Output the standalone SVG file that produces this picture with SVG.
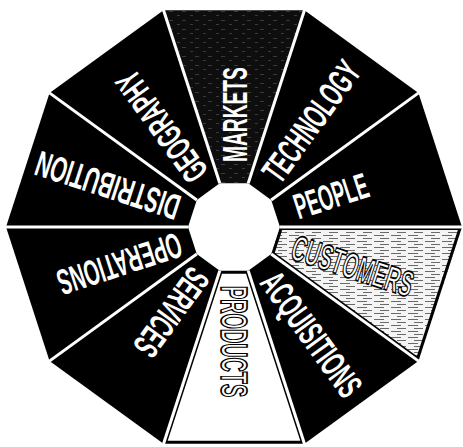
<svg xmlns="http://www.w3.org/2000/svg" width="463" height="447" viewBox="0 0 463 447">
  <style>
    .seg { fill: #000; }
    .lbl { font-family: "Liberation Sans", Arial, sans-serif; font-weight: bold; font-size: 36px; fill: #fff; }
    .lbl-out { font-family: "Liberation Sans", Arial, sans-serif; font-weight: bold; font-size: 36px; fill: #fff; stroke: #000; stroke-width: 1.7; }
    .sep { stroke: #fff; stroke-width: 3; stroke-linecap: butt; }
  </style>
  <defs>
    <pattern id="darktex" width="13" height="9" patternUnits="userSpaceOnUse">
      <rect width="13" height="9" fill="#0e0e0e"/>
      <path d="M0 2.5h4M8 6.5h3" stroke="#3a3a3a" stroke-width="1"/>
    </pattern>
    <pattern id="lighttex" width="17" height="6" patternUnits="userSpaceOnUse">
      <rect width="17" height="6" fill="#f4f4f4"/>
      <path d="M0 1.5h10M6 4.5h9" stroke="#6a6a6a" stroke-width="1"/>
    </pattern>
    <clipPath id="clipCust">
      <polygon points="280,227 462,227 418.46,361.02 271.21,254.04"/>
    </clipPath>
    <clipPath id="clipProd">
      <polygon points="248.21,270.75 304.46,443.84 163.54,443.84 219.79,270.75"/>
    </clipPath>
  </defs>

  <g id="markets">
    <polygon points="219.79,183.25 163.54,10.16 304.46,10.16 248.21,183.25" fill="url(#darktex)"/>
    <text class="lbl" transform="translate(234 227) rotate(-90) scale(0.533 1)" x="122" y="12.9">MARKETS</text>
  </g>
  <g id="technology">
    <polygon class="seg" points="248.21,183.25 304.46,10.16 418.46,92.98 271.21,199.96"/>
    <text class="lbl" transform="translate(234 227) rotate(-54) scale(0.551 1)" x="110.7" y="12.9">TECHNOLOGY</text>
  </g>
  <g id="people">
    <polygon class="seg" points="271.21,199.96 418.46,92.98 462,227 280,227"/>
    <text class="lbl" transform="translate(234 227) rotate(-18) scale(0.52 1)" x="123.1" y="12.9">PEOPLE</text>
  </g>
  <g id="customers">
    <polygon points="280,227 462,227 418.46,361.02 271.21,254.04" fill="url(#lighttex)"/>
    <polygon points="280,227 462,227 418.46,361.02 271.21,254.04" fill="none" stroke="#000" stroke-width="6" clip-path="url(#clipCust)"/>
    <text class="lbl-out" transform="translate(234 227) rotate(18) scale(0.548 1)" x="113.1" y="12.9">CUSTOMERS</text>
  </g>
  <g id="acquisitions">
    <polygon class="seg" points="271.21,254.04 418.46,361.02 304.46,443.84 248.21,270.75"/>
    <text class="lbl" transform="translate(234 227) rotate(54) scale(0.557 1)" x="107.7" y="12.9">ACQUISITIONS</text>
  </g>
  <g id="products">
    <polygon points="248.21,270.75 304.46,443.84 163.54,443.84 219.79,270.75" fill="#fff"/>
    <polygon points="248.21,270.75 304.46,443.84 163.54,443.84 219.79,270.75" fill="none" stroke="#000" stroke-width="6" clip-path="url(#clipProd)"/>
    <text class="lbl-out" transform="translate(234 227) rotate(90) scale(0.55 1)" x="107.3" y="12.9">PRODUCTS</text>
  </g>
  <g id="services">
    <polygon class="seg" points="219.79,270.75 163.54,443.84 49.54,361.02 196.79,254.04"/>
    <text class="lbl" transform="translate(234 227) rotate(126) scale(0.55 1)" x="101.8" y="12.9">SERVICES</text>
  </g>
  <g id="operations">
    <polygon class="seg" points="196.79,254.04 49.54,361.02 6,227 188,227"/>
    <text class="lbl" transform="translate(234 227) rotate(162) scale(0.546 1)" x="102.6" y="12.9">OPERATIONS</text>
  </g>
  <g id="distribution">
    <polygon class="seg" points="188,227 6,227 49.54,92.98 196.79,199.96"/>
    <text class="lbl" transform="translate(234 227) rotate(198) scale(0.585 1)" x="99.1" y="12.9">DISTRIBUTION</text>
  </g>
  <g id="geography">
    <polygon class="seg" points="196.79,199.96 49.54,92.98 163.54,10.16 219.79,183.25"/>
    <text class="lbl" transform="translate(234 227) rotate(234) scale(0.547 1)" x="109.7" y="12.9">GEOGRAPHY</text>
  </g>

  <g id="separators">
    <line class="sep" x1="280" y1="227" x2="463" y2="227"/>
    <line class="sep" x1="271.21" y1="254.04" x2="419.27" y2="361.6"/>
    <line class="sep" x1="248.21" y1="270.75" x2="304.77" y2="444.79"/>
    <line class="sep" x1="219.79" y1="270.75" x2="163.23" y2="444.79"/>
    <line class="sep" x1="196.79" y1="254.04" x2="48.73" y2="361.6"/>
    <line class="sep" x1="188" y1="227" x2="5" y2="227"/>
    <line class="sep" x1="196.79" y1="199.96" x2="48.73" y2="92.4"/>
    <line class="sep" x1="219.79" y1="183.25" x2="163.23" y2="9.21"/>
    <line class="sep" x1="248.21" y1="183.25" x2="304.77" y2="9.21"/>
    <line class="sep" x1="271.21" y1="199.96" x2="419.27" y2="92.4"/>
  </g>
</svg>
